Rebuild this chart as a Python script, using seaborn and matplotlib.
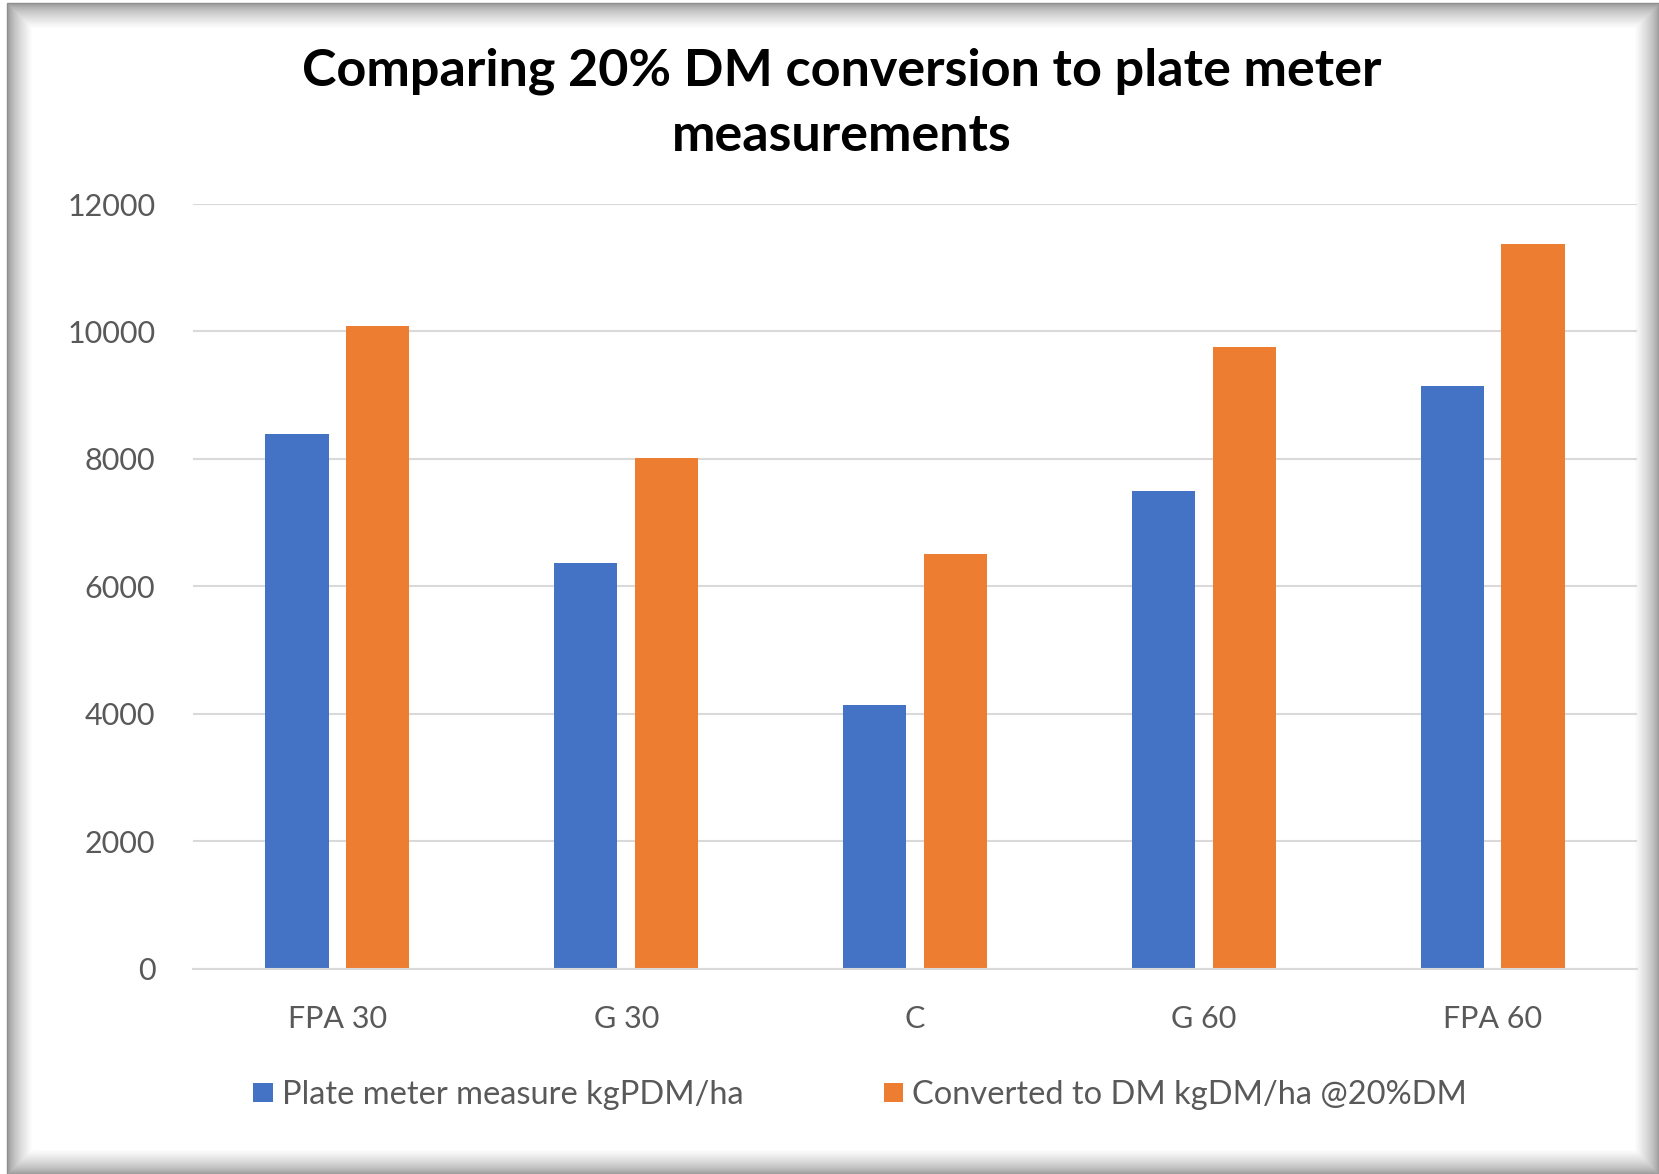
import numpy as np
import pandas as pd
import matplotlib
matplotlib.use("Agg")
import matplotlib.pyplot as plt
from matplotlib.patches import Rectangle, Patch
import seaborn as sns

# Data
categories = ["FPA 30", "G 30", "C", "G 60", "FPA 60"]
plate_meter = [8390, 6360, 4130, 7490, 9140]
converted_dm = [10090, 8010, 6500, 9760, 11370]
series_names = ["Plate meter measure kgPDM/ha", "Converted to DM kgDM/ha @20%DM"]
y_ticks = [0, 2000, 4000, 6000, 8000, 10000, 12000]

BLUE = "#4472C4"
ORANGE = "#ED7D31"
TEXT = "#595959"
GRID = "#D9D9D9"

df = pd.DataFrame({
    "category": categories * 2,
    "series": [series_names[0]] * len(categories) + [series_names[1]] * len(categories),
    "value": plate_meter + converted_dm,
})

sns.set_style("white")
plt.rcParams["font.family"] = ["Lato", "DejaVu Sans"]

W, H = 1659, 1174
fig = plt.figure(figsize=(W / 100, H / 100), dpi=100)
fig.patch.set_facecolor("white")

# Beveled frame around the chart area
x0, y0_top, x1, y1_bot = 7, 3, W, H
n = 26
for i in range(n):
    t = (i / (n - 1)) ** 0.6
    g = 0.55 + 0.45 * t
    fig.patches.append(Rectangle((x0 + i, H - y1_bot + i), (x1 - x0) - 2 * i, (y1_bot - y0_top) - 2 * i,
                                 transform=None, fill=False, edgecolor=(g, g, g), linewidth=1.0,
                                 zorder=-10 + i * 0.01))

ax = fig.add_axes([193 / W, 1 - 968.5 / H, (1637 - 193) / W, (968.5 - 204) / H])
sns.barplot(data=df, x="category", y="value", hue="series", palette=[BLUE, ORANGE],
            width=0.56, gap=0.22, saturation=1, errorbar=None, linewidth=0, ax=ax)

ax.set_ylim(0, 12000)
ax.set_xlim(-0.5, len(categories) - 0.5)
ax.set_yticks(y_ticks)
ax.set_yticklabels([str(v) for v in y_ticks])
ax.set_xlabel("")
ax.set_ylabel("")
ax.yaxis.grid(True, color=GRID, linewidth=1.5)
ax.set_axisbelow(True)
for s in ["left", "right", "top"]:
    ax.spines[s].set_visible(False)
ax.spines["bottom"].set_color(GRID)
ax.spines["bottom"].set_linewidth(1.5)
ax.tick_params(axis="both", length=0, labelsize=22, labelcolor=TEXT)
ax.tick_params(axis="y", pad=27)
ax.tick_params(axis="x", pad=26)
ax.set_facecolor("none")

if ax.legend_ is not None:
    ax.legend_.remove()

handles = [Patch(facecolor=BLUE, edgecolor="none"), Patch(facecolor=ORANGE, edgecolor="none")]
fig.legend(handles, series_names, loc="center", bbox_to_anchor=(860 / W, 1 - 1095 / H),
           ncol=2, frameon=False, fontsize=23.5, labelcolor=TEXT,
           handlelength=0.61, handleheight=0.55, handletextpad=0.26, columnspacing=4.3,
           borderpad=0, borderaxespad=0)

fig.text(842 / W, 1 - 104 / H, "Comparing 20% DM conversion to plate meter\nmeasurements",
         ha="center", va="center", fontsize=37.5, fontweight="bold", color="black",
         linespacing=1.47)

fig.savefig("out.png", dpi=100)
